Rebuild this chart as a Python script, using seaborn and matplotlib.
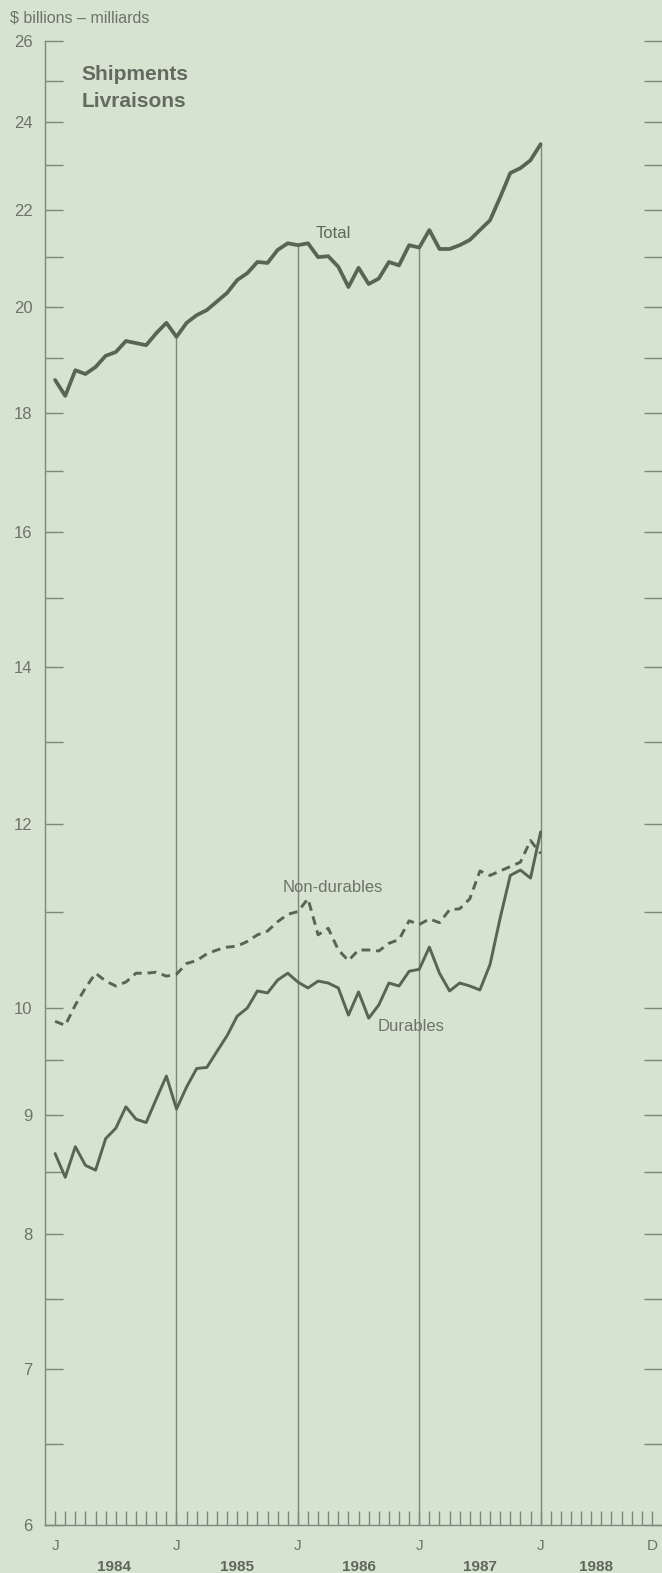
import numpy as np
import pandas as pd
import matplotlib
matplotlib.use("Agg")
import matplotlib.pyplot as plt
import seaborn as sns
from matplotlib.ticker import FixedLocator, NullFormatter, FixedFormatter

# ---- data: monthly, Jan 1984 (index 0) .. Jan 1988 (index 48), $ billions ----
month_index = list(range(49))
total = [18.60, 18.31, 18.78, 18.71, 18.84, 19.05, 19.12, 19.33, 19.29, 19.25, 19.48, 19.68,
         19.41, 19.68, 19.83, 19.93, 20.10, 20.27, 20.53, 20.67, 20.90, 20.88, 21.15, 21.29,
         21.25, 21.29, 21.00, 21.02, 20.80, 20.39, 20.78, 20.45, 20.56, 20.90, 20.83, 21.25,
         21.20, 21.57, 21.17, 21.17, 21.25, 21.36, 21.57, 21.78, 22.28, 22.82, 22.93, 23.11,
         23.48]
durables = [8.66, 8.46, 8.72, 8.56, 8.52, 8.79, 8.88, 9.07, 8.96, 8.93, 9.14, 9.35,
            9.05, 9.25, 9.42, 9.43, 9.58, 9.73, 9.92, 10.00, 10.17, 10.15, 10.28, 10.35,
            10.26, 10.20, 10.27, 10.25, 10.20, 9.93, 10.16, 9.90, 10.03, 10.25, 10.22, 10.37,
            10.39, 10.62, 10.35, 10.17, 10.25, 10.22, 10.18, 10.44, 10.93, 11.40, 11.46, 11.37,
            11.90]
non_durables = [9.87, 9.83, 10.03, 10.20, 10.35, 10.27, 10.22, 10.26, 10.35, 10.35, 10.36, 10.32,
                10.34, 10.45, 10.48, 10.55, 10.59, 10.62, 10.63, 10.68, 10.75, 10.79, 10.89, 10.97,
                11.00, 11.14, 10.75, 10.82, 10.59, 10.48, 10.59, 10.59, 10.58, 10.66, 10.70, 10.90,
                10.86, 10.92, 10.88, 11.02, 11.03, 11.14, 11.45, 11.40, 11.45, 11.50, 11.55, 11.80,
                11.65]

january_marks = [12, 24, 36, 48]           # Januaries with drop lines
month_labels = ["J", "J", "J", "J", "J", "D"]
month_label_pos = [0, 12, 24, 36, 48, 59]
year_labels = ["1984", "1985", "1986", "1987", "1988"]
year_label_pos = [5.8, 18, 30, 42, 53.5]
y_major = [6, 7, 8, 9, 10, 12, 14, 16, 18, 20, 22, 24, 26]
y_minor = [6.5, 7.5, 8.5, 9.5, 11, 13, 15, 17, 19, 21, 23, 25]

BG = "#d6e3d0"
LINE = "#5a6455"
TXT = "#6d736a"
AXC = "#7f877c"

sns.set_theme(style="white")
plt.rcParams["font.family"] = ["Liberation Sans", "DejaVu Sans"]

fig = plt.figure(figsize=(6.62, 15.73), dpi=100, facecolor=BG)
ax = fig.add_axes([45 / 662, 1 - 1525 / 1573, 1 - 45 / 662, (1525 - 41) / 1573])
ax.set_facecolor(BG)

df = pd.DataFrame({"month": month_index, "total": total,
                   "durables": durables, "non_durables": non_durables})

sns.lineplot(data=df, x="month", y="total", ax=ax, color=LINE, linewidth=2.7)
sns.lineplot(data=df, x="month", y="durables", ax=ax, color=LINE, linewidth=2.1)
sns.lineplot(data=df, x="month", y="non_durables", ax=ax, color=LINE, linewidth=2.1,
             linestyle="--")
ax.lines[-1].set_dashes([3.0, 2.0])

ax.set_yscale("log")
ax.set_ylim(6, 26)
ax.set_xlim(-1, 60)

# drop lines from axis to total at Januaries
ax.vlines(january_marks, 6, [total[i] for i in january_marks], color=AXC, linewidth=1.0, zorder=1)

# y ticks
ax.yaxis.set_major_locator(FixedLocator(y_major))
ax.yaxis.set_major_formatter(FixedFormatter([str(v) for v in y_major]))
ax.yaxis.set_minor_locator(FixedLocator(y_minor))
ax.yaxis.set_minor_formatter(NullFormatter())
ax.tick_params(axis="y", which="both", direction="in", length=13, width=1.0, color=AXC,
               left=True, right=True, labelsize=12, labelcolor=TXT, pad=9)

# x ticks: monthly
ax.xaxis.set_major_locator(FixedLocator(month_label_pos))
ax.xaxis.set_major_formatter(FixedFormatter(month_labels))
ax.xaxis.set_minor_locator(FixedLocator(list(range(0, 60))))
ax.tick_params(axis="x", which="both", direction="in", length=10, width=1.0, color=AXC,
               bottom=True, labelsize=11, labelcolor=TXT, pad=10)

for yl, yp in zip(year_labels, year_label_pos):
    ax.annotate(yl, xy=(yp, 0), xycoords=("data", "axes fraction"), xytext=(0, -30),
                textcoords="offset points", ha="center", va="center", fontsize=11,
                fontweight="bold", color="#5f675c")

ax.set_xlabel("")
ax.set_ylabel("")
for s in ["top", "right"]:
    ax.spines[s].set_visible(False)
for s in ["left", "bottom"]:
    ax.spines[s].set_color(AXC)
    ax.spines[s].set_linewidth(1.0)

# labels
ax.text(25.8, 21.5, "Total", fontsize=12, color="#5f675c", ha="left", va="center")
ax.text(22.5, 11.26, "Non-durables", fontsize=12, color=TXT, ha="left", va="center")
ax.text(31.9, 9.82, "Durables", fontsize=12, color=TXT, ha="left", va="center")
ax.text(2.6, 25.02, "Shipments", fontsize=15, fontweight="bold", color="#636a60",
        ha="left", va="baseline")
ax.text(2.6, 24.36, "Livraisons", fontsize=15, fontweight="bold", color="#636a60",
        ha="left", va="baseline")

fig.text(10 / 662, 1 - 22 / 1573, "$ billions \u2013 milliards", fontsize=11.5, color=TXT,
         ha="left", va="baseline")

fig.savefig("out.png", dpi=100, facecolor=BG)
